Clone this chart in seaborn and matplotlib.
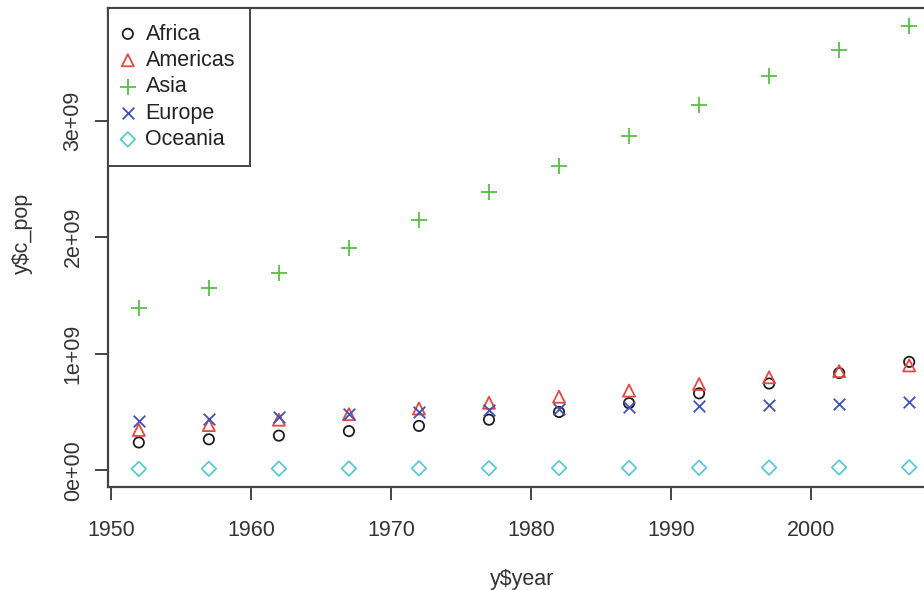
import numpy as np
import pandas as pd
import matplotlib
matplotlib.use("Agg")
import matplotlib.pyplot as plt
import seaborn as sns

# Total population per continent (gapminder), by survey year
years = [1952, 1957, 1962, 1967, 1972, 1977, 1982, 1987, 1992, 1997, 2002, 2007]
continents = ["Africa", "Americas", "Asia", "Europe", "Oceania"]
africa = [237.6e6, 264.8e6, 296.5e6, 335.3e6, 379.9e6, 433.1e6, 499.3e6, 574.8e6, 659.1e6, 743.8e6, 833.7e6, 929.5e6]
americas = [345.2e6, 386.9e6, 433.3e6, 480.7e6, 529.4e6, 578.1e6, 630.3e6, 682.8e6, 739.3e6, 796.9e6, 849.8e6, 898.9e6]
asia = [1395.4e6, 1562.8e6, 1696.4e6, 1905.7e6, 2151.0e6, 2384.5e6, 2610.1e6, 2871.2e6, 3133.3e6, 3383.3e6, 3601.8e6, 3812.0e6]
europe = [418.1e6, 437.9e6, 460.4e6, 481.2e6, 500.6e6, 517.2e6, 529.0e6, 538.9e6, 548.9e6, 557.0e6, 567.4e6, 586.1e6]
oceania = [10.7e6, 11.9e6, 13.0e6, 14.2e6, 15.9e6, 16.9e6, 18.0e6, 19.1e6, 20.6e6, 22.2e6, 23.5e6, 24.5e6]

x_ticks = [1950, 1960, 1970, 1980, 1990, 2000]
y_ticks = [0, 1e9, 2e9, 3e9]
y_tick_labels = ["0e+00", "1e+09", "2e+09", "3e+09"]

series = [africa, americas, asia, europe, oceania]
df = pd.DataFrame({
    "year": years * len(continents),
    "c_pop": [v for s in series for v in s],
    "continent": [c for c in continents for _ in years],
})

sns.set_style("white")
plt.rcParams["font.family"] = ["Liberation Sans", "DejaVu Sans"]

colors = {"Africa": "#1e1e1e", "Americas": "#e8473f", "Asia": "#58c046",
          "Europe": "#4151b8", "Oceania": "#5cc8d6"}
markers = {"Africa": "o", "Americas": "^", "Asia": "+", "Europe": "x", "Oceania": "D"}
sizes = {"Africa": 55, "Americas": 75, "Asia": 140, "Europe": 70, "Oceania": 55}

FS = 15.5
fig = plt.figure(figsize=(9.24, 5.90), dpi=100)
W, H = 924, 590
left, right, top, bottom = 108, 940, 8, 487
ax = fig.add_axes([left / W, 1 - bottom / H, (right - left) / W, (bottom - top) / H])

for c in continents:
    sub = df[df["continent"] == c]
    m = markers[c]
    kw = dict(facecolors="none", edgecolors=colors[c]) if m in ("o", "^", "D") else dict(color=colors[c])
    sns.scatterplot(data=sub, x="year", y="c_pop", marker=m, s=sizes[c],
                    linewidth=1.3, ax=ax, label=c, **kw)

ax.set_xlim(1949.8, 2009.2)
ax.set_ylim(-0.1445e9, 3.9665e9)

axis_color = "#444444"
for side in ["left", "bottom", "top", "right"]:
    ax.spines[side].set_color(axis_color)
    ax.spines[side].set_linewidth(1.6)

ax.set_xticks(x_ticks)
ax.set_yticks(y_ticks)
ax.set_yticklabels(y_tick_labels, rotation=90, va="center")
ax.tick_params(axis="both", which="both", direction="out", length=9.5, width=1.4,
               color=axis_color, labelsize=FS, labelcolor="#333333",
               left=True, bottom=True)
ax.tick_params(axis="y", pad=8)
ax.tick_params(axis="x", pad=14)

ax.set_xlabel("y$year", fontsize=FS, color="#333333")
ax.set_ylabel("y$c_pop", fontsize=FS, color="#333333")
ax.xaxis.set_label_coords((522 - left) / (right - left), (bottom - 580) / (bottom - top))
ax.xaxis.label.set_va("center")
ax.yaxis.set_label_coords((22 - left) / (right - left), (bottom - 233) / (bottom - top))
ax.yaxis.label.set_va("center")

leg = ax.legend(loc="upper left", bbox_to_anchor=(0, 1), borderaxespad=0,
                frameon=True, fancybox=False, fontsize=FS,
                handletextpad=0.62, labelspacing=0.25, borderpad=0.72,
                handlelength=0.4)
leg.get_frame().set_edgecolor(axis_color)
leg.get_frame().set_linewidth(1.4)
leg.get_frame().set_alpha(1)
for t in leg.get_texts():
    t.set_color("#222222")

fig.savefig("out.png", dpi=100)
